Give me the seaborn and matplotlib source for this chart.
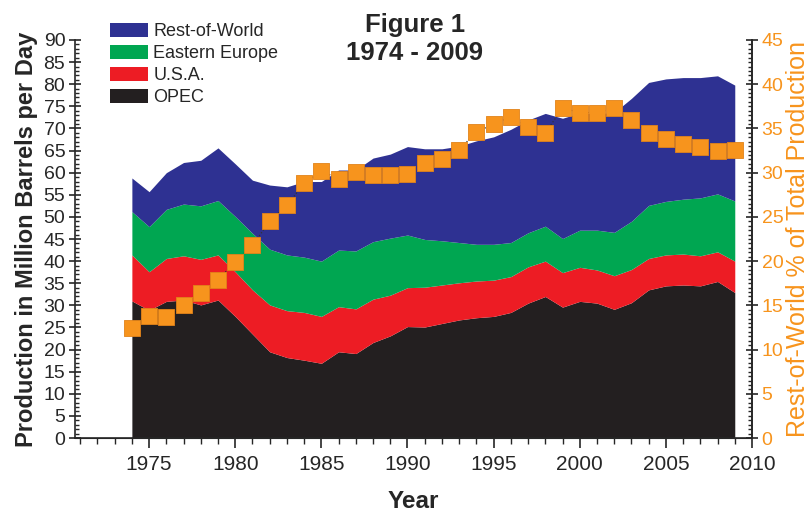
import numpy as np
import pandas as pd
import matplotlib
matplotlib.use("Agg")
import matplotlib.pyplot as plt
from matplotlib.patches import Patch
from matplotlib.ticker import MultipleLocator
import seaborn as sns

# --- DATA (million barrels per day) ---
years = list(range(1974, 2010))
opec = [31.0, 28.9, 30.9, 31.2, 30.1, 31.2, 27.5, 23.5, 19.5, 18.2, 17.6, 16.9,
        19.5, 19.1, 21.6, 23.1, 25.2, 25.1, 25.9, 26.7, 27.2, 27.5, 28.4, 30.5,
        32.0, 29.6, 30.9, 30.5, 29.1, 30.6, 33.5, 34.4, 34.6, 34.4, 35.4, 32.9]
usa = [10.4, 8.7, 9.7, 10.0, 10.3, 10.2, 10.1, 10.0, 10.6, 10.6, 10.8, 10.6,
       10.2, 10.1, 9.8, 9.2, 8.8, 9.0, 8.7, 8.4, 8.3, 8.2, 8.1, 8.2,
       8.0, 7.8, 7.7, 7.5, 7.6, 7.5, 7.1, 7.0, 7.0, 6.8, 6.7, 7.1]
eastern_europe = [9.8, 10.2, 11.1, 11.7, 12.1, 12.3, 12.5, 12.8, 12.6, 12.6, 12.5, 12.5,
                  12.8, 13.1, 13.0, 12.9, 11.9, 10.8, 10.0, 9.1, 8.3, 8.1, 7.7, 7.7,
                  7.9, 7.7, 8.4, 9.0, 9.8, 10.9, 12.0, 12.1, 12.4, 13.1, 13.1, 13.6]
rest_of_world = [7.6, 7.9, 8.3, 9.4, 10.3, 11.9, 11.9, 12.0, 14.5, 15.4, 17.1, 18.0,
                 18.1, 18.3, 18.9, 19.0, 20.0, 20.5, 20.8, 21.8, 23.4, 24.3, 25.6, 25.5,
                 25.5, 27.2, 26.5, 26.3, 27.1, 27.8, 27.8, 27.7, 27.5, 27.2, 26.7, 26.2]
# Rest-of-World share of total production (%)
row_pct = [12.4, 13.8, 13.7, 15.0, 16.4, 17.9, 19.9, 21.8, 24.5, 26.3, 28.8, 30.2,
           29.3, 30.1, 29.7, 29.7, 29.9, 31.1, 31.6, 32.6, 34.6, 35.5, 36.3, 35.2,
           34.5, 37.3, 36.8, 36.8, 37.3, 36.0, 34.5, 33.8, 33.2, 32.9, 32.4, 32.6]

series_names = ["OPEC", "U.S.A.", "Eastern Europe", "Rest-of-World"]
colors = ["#231F20", "#ED1C24", "#00A651", "#2E3192"]
ORANGE = "#F7941D"

sns.set_style("ticks")
plt.rcParams["font.family"] = ["Liberation Sans", "DejaVu Sans"]

df = pd.DataFrame({"year": years, "pct": row_pct})

fig = plt.figure(figsize=(8.12, 5.18), dpi=100)
ax = fig.add_axes([0.0924, 0.1544, 0.8337, 0.7684])

# stacked areas
ax.stackplot(years, opec, usa, eastern_europe, rest_of_world,
             colors=colors, linewidth=0)

ax.set_xlim(1970.7, 2010)
ax.set_ylim(0, 90)
ax.xaxis.set_major_locator(MultipleLocator(5))
ax.xaxis.set_minor_locator(MultipleLocator(1))
ax.yaxis.set_major_locator(MultipleLocator(5))
ax.yaxis.set_minor_locator(MultipleLocator(1))
ax.set_xticks(range(1975, 2011, 5))
ax.tick_params(axis="x", which="major", direction="out", length=7, width=1.2, labelsize=15, pad=5)
ax.tick_params(axis="x", which="minor", direction="out", length=4, width=1)
ax.tick_params(axis="y", which="major", direction="inout", length=8, width=1.2, labelsize=14, pad=3)
ax.tick_params(axis="y", which="minor", direction="in", length=3, width=1)
sns.despine(ax=ax, top=True, right=False)
for sp in ["left", "bottom", "right"]:
    ax.spines[sp].set_linewidth(1.2)

ax.set_xlabel("Year", fontsize=17.5, fontweight="bold", labelpad=12)
ax.set_ylabel("Production in Million Barrels per Day", fontsize=17, fontweight="bold",
              labelpad=4)

# right axis with Rest-of-World percentage
ax2 = ax.twinx()
sns.lineplot(data=df, x="year", y="pct", ax=ax2, color="#333333",
             linestyle=":", linewidth=0.9, zorder=2)
sns.scatterplot(data=df, x="year", y="pct", ax=ax2, marker="s", s=125,
                color=ORANGE, edgecolor="#E2831A", linewidth=0.6, zorder=3)
ax2.set_ylim(0, 45)
ax2.yaxis.set_major_locator(MultipleLocator(5))
ax2.yaxis.set_minor_locator(MultipleLocator(0.5))
ax2.tick_params(axis="y", which="major", direction="inout", length=8, width=1.2,
                labelsize=14, labelcolor=ORANGE, pad=3)
ax2.tick_params(axis="y", which="minor", direction="in", length=3, width=1)
ax2.set_ylabel("Rest-of-World % of Total Production", fontsize=18, color=ORANGE, labelpad=2)
ax2.set_xlabel("")
for sp in ["top", "left"]:
    ax2.spines[sp].set_visible(False)
ax2.spines["right"].set_linewidth(1.2)

fig.text(0.511, 0.939, "Figure 1", ha="center", va="baseline", fontsize=18.5,
         fontweight="bold")
fig.text(0.511, 0.884, "1974 - 2009", ha="center", va="baseline", fontsize=18.5,
         fontweight="bold")

handles = [Patch(facecolor=c, edgecolor="none") for c in colors[::-1]]
fig.legend(handles, series_names[::-1], loc="upper left",
           bbox_to_anchor=(0.1355, 0.955), frameon=False, fontsize=13,
           handlelength=2.1, handleheight=0.78, labelspacing=0.27,
           handletextpad=0.3, borderaxespad=0, borderpad=0)

fig.savefig("out.png", dpi=100)
